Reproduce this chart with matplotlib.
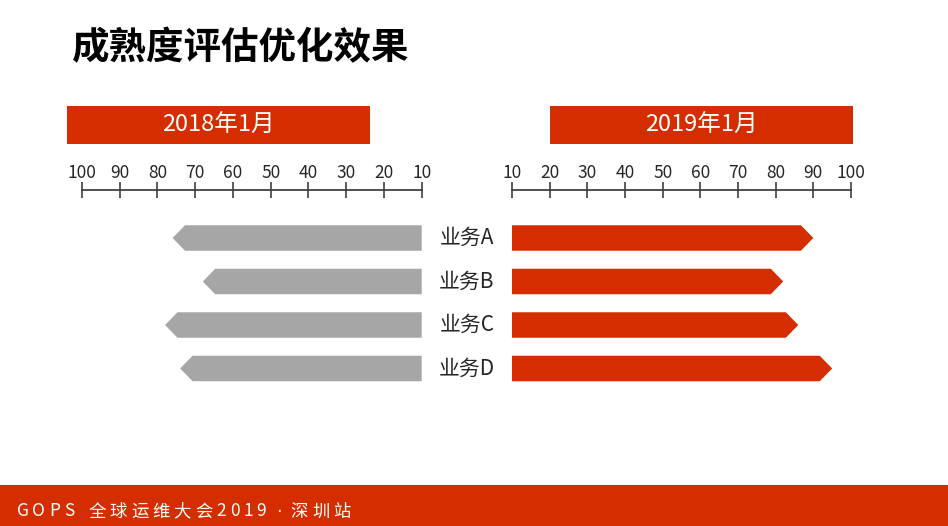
import matplotlib
matplotlib.use("Agg")
import matplotlib.pyplot as plt
from matplotlib.patches import Polygon, Rectangle
import matplotlib.transforms as mtransforms

plt.rcParams['font.family'] = ['Noto Sans CJK SC', 'DejaVu Sans']

# ---- data ----
title = '成熟度评估优化效果'
period_left = '2018年1月'
period_right = '2019年1月'
categories = ['业务A', '业务B', '业务C', '业务D']
values_2018 = [76, 68, 78, 74]
values_2019 = [90, 82, 86, 95]
tick_values = [10, 20, 30, 40, 50, 60, 70, 80, 90, 100]
base_value = 10
footer = 'GOPS 全球运维大会2019·深圳站'

RED = '#D42E00'
GREY = '#A6A6A6'
AXC = '#404040'
TXT = '#262626'

W, H = 948, 526
fig = plt.figure(figsize=(W / 100, H / 100), dpi=100)


def fx(px):
    return px / W


def fy(py):
    return 1 - py / H


# axes geometry (pixels)
top_px, bot_px = 190, 400
c0, step = 238.0, 43.5
ylim = ((bot_px - c0) / step, (top_px - c0) / step)
bar_h = 25.5 / step
tip = 3.3

axL = fig.add_axes([fx(82), fy(bot_px), fx(421.7) - fx(82), fy(top_px) - fy(bot_px)])
axR = fig.add_axes([fx(512), fy(bot_px), fx(851) - fx(512), fy(top_px) - fy(bot_px)])


def arrow_bar(ax, y, v, color):
    pts = [(base_value, y - bar_h / 2), (v - tip, y - bar_h / 2), (v, y),
           (v - tip, y + bar_h / 2), (base_value, y + bar_h / 2)]
    ax.add_patch(Polygon(pts, closed=True, facecolor=color, edgecolor='none'))


for ax, vals, color, xl in ((axL, values_2018, GREY, (100, 10)),
                             (axR, values_2019, RED, (10, 100))):
    ax.set_xlim(*xl)
    ax.set_ylim(*ylim)
    for i, v in enumerate(vals):
        arrow_bar(ax, i, v, color)
    for s in ('left', 'right', 'bottom'):
        ax.spines[s].set_visible(False)
    ax.spines['top'].set_color(AXC)
    ax.spines['top'].set_linewidth(1.3)
    ax.xaxis.set_ticks_position('top')
    ax.set_xticks(tick_values)
    ax.set_xticklabels([str(t) for t in tick_values])
    ax.tick_params(axis='x', direction='inout', length=12, width=1.2, color=AXC,
                   labelsize=12.5, labelcolor=TXT, pad=0)
    ax.set_yticks([])
    ax.patch.set_alpha(0)

# category labels between the two panels
trans = mtransforms.blended_transform_factory(fig.transFigure, axR.transData)
for i, c in enumerate(categories):
    fig.text(fx(467), i, c, transform=trans, ha='center', va='center',
             fontsize=15, color=TXT)

# title
fig.text(fx(71), fy(48), title, fontsize=27, fontweight='heavy', color='black',
         ha='left', va='center')

# period header boxes
for x0, x1, label in ((67, 370, period_left), (550, 853, period_right)):
    fig.patches.append(Rectangle((fx(x0), fy(143.7)), fx(x1) - fx(x0), fy(105.7) - fy(143.7),
                                 transform=fig.transFigure, facecolor=RED, edgecolor='none'))
    fig.text(fx((x0 + x1) / 2), fy(125), label, ha='center', va='center',
             fontsize=17, color='white')

# footer band
fig.patches.append(Rectangle((0, 0), 1, fy(485), transform=fig.transFigure,
                             facecolor=RED, edgecolor='none'))
fig.canvas.draw()
renderer = fig.canvas.get_renderer()
x = 16.5
spacing = 3.9
fsz = 12.5
for ch in footer:
    if ch == '·':
        fig.text(fx(x + 8.2), fy(516.5), '·', ha='center', va='baseline', fontsize=fsz,
                 color='white', family='DejaVu Sans')
        x += 20.5
        continue
    t = fig.text(fx(x), fy(516.5), ch, ha='left', va='baseline', fontsize=fsz,
                 color='white')
    wpx = t.get_window_extent(renderer).width
    if ch == ' ':
        wpx = 6.5
    x += wpx + spacing

fig.savefig('out.png', dpi=100)
